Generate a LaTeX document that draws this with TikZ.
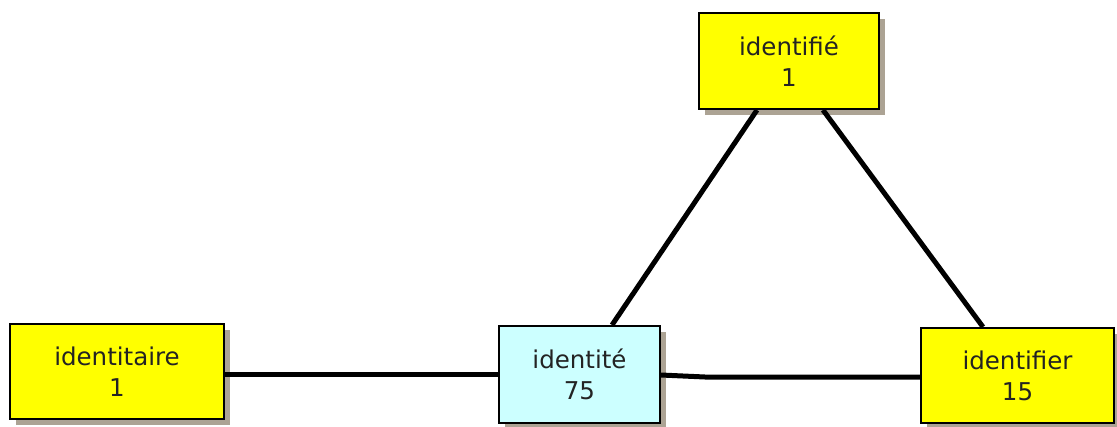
\documentclass[tikz,border=0pt]{standalone}
\usepackage{fontspec}
\setmainfont{DejaVu Sans}
\usetikzlibrary{shadows}
\definecolor{boxyellow}{RGB}{255,255,0}
\definecolor{boxcyan}{RGB}{204,255,255}
\definecolor{shadowc}{RGB}{172,163,148}
\definecolor{textc}{RGB}{35,35,35}
\tikzset{
  wordbox/.style={draw=black, line width=2pt, rectangle, inner sep=0pt,
    align=center, text=textc, font=\fontsize{24.5}{31}\selectfont,
    drop shadow={shadow xshift=6pt, shadow yshift=-6pt, fill=shadowc, opacity=1}},
  link/.style={line width=5pt, black}
}
\begin{document}
\begin{tikzpicture}[x=1pt,y=-1pt]
\useasboundingbox (0,0) rectangle (1117,426);
\fill[white] (0,0) rectangle (1117,426);
\node[wordbox, fill=boxyellow, minimum width=214pt, minimum height=95pt] (taire) at (117,371.5) {identitaire\\1};
\node[wordbox, fill=boxcyan, minimum width=161pt, minimum height=97pt] (tite) at (579.5,374.5) {identité\\75};
\node[wordbox, fill=boxyellow, minimum width=180pt, minimum height=96pt] (tifie) at (789,61) {identifié\\1};
\node[wordbox, fill=boxyellow, minimum width=193pt, minimum height=95pt] (tifier) at (1017.5,375.5) {identifier\\15};
\coordinate (kink) at (705,377);
\draw[link] (taire.east |- 0,374) -- (tite.west |- 0,374);
\draw[link] (tite.east |- 0,375) -- (kink) -- (tifier.west |- 0,377);
\draw[link] (tite.north -| 612,0) -- (tifie.south -| 757,0);
\draw[link] (tifie.south -| 823,0) -- (tifier.north -| 983,0);
\end{tikzpicture}
\end{document}
